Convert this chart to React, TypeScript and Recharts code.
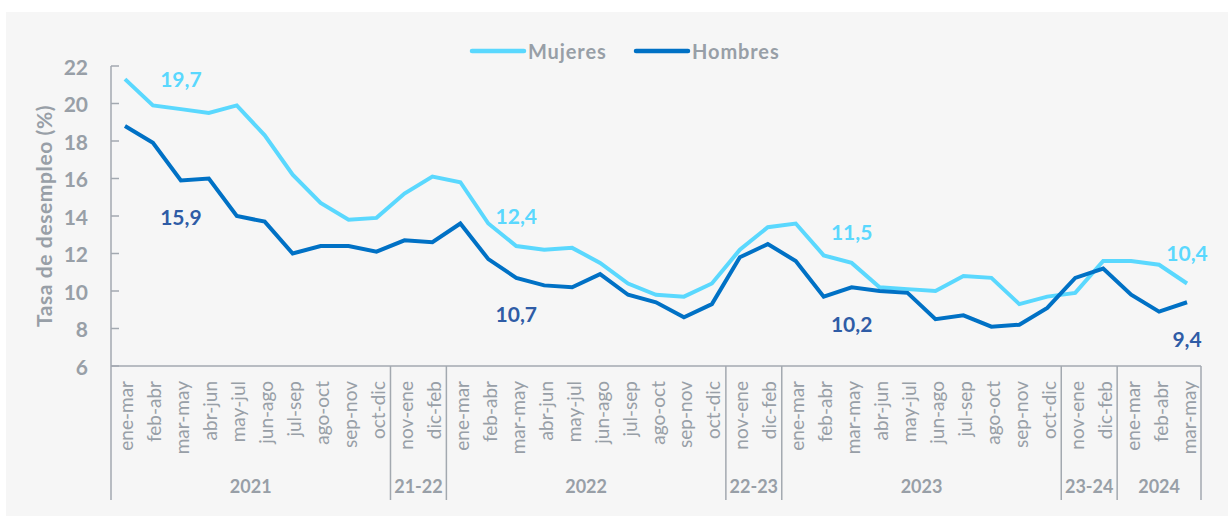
import React from 'react';
import { LineChart, Line, XAxis, YAxis, LabelList } from 'recharts';

const categories = [
  'ene-mar', 'feb-abr', 'mar-may', 'abr-jun', 'may-jul', 'jun-ago', 'jul-sep', 'ago-oct', 'sep-nov', 'oct-dic',
  'nov-ene', 'dic-feb',
  'ene-mar', 'feb-abr', 'mar-may', 'abr-jun', 'may-jul', 'jun-ago', 'jul-sep', 'ago-oct', 'sep-nov', 'oct-dic',
  'nov-ene', 'dic-feb',
  'ene-mar', 'feb-abr', 'mar-may', 'abr-jun', 'may-jul', 'jun-ago', 'jul-sep', 'ago-oct', 'sep-nov', 'oct-dic',
  'nov-ene', 'dic-feb',
  'ene-mar', 'feb-abr', 'mar-may',
];

const groupLabels = ['2021', '21-22', '2022', '22-23', '2023', '23-24', '2024'];
const groupSizes = [10, 2, 10, 2, 10, 2, 3];

const mujeres = [
  21.3, 19.9, 19.7, 19.5, 19.9, 18.3, 16.2, 14.7, 13.8, 13.9,
  15.2, 16.1,
  15.8, 13.6, 12.4, 12.2, 12.3, 11.5, 10.4, 9.8, 9.7, 10.4,
  12.2, 13.4,
  13.6, 11.9, 11.5, 10.2, 10.1, 10.0, 10.8, 10.7, 9.3, 9.7,
  9.9, 11.6,
  11.6, 11.4, 10.4,
];

const hombres = [
  18.8, 17.9, 15.9, 16.0, 14.0, 13.7, 12.0, 12.4, 12.4, 12.1,
  12.7, 12.6,
  13.6, 11.7, 10.7, 10.3, 10.2, 10.9, 9.8, 9.4, 8.6, 9.3,
  11.8, 12.5,
  11.6, 9.7, 10.2, 10.0, 9.9, 8.5, 8.7, 8.1, 8.2, 9.1,
  10.7, 11.2,
  9.8, 8.9, 9.4,
];

const yTicks = [6, 8, 10, 12, 14, 16, 18, 20, 22];
const labelIndices = [2, 14, 26, 38];

const data = categories.map((c, i) => ({ cat: c + '_' + i, label: c, mujeres: mujeres[i], hombres: hombres[i] }));

const groupStart: Record<number, number> = {};
{
  let s = 0;
  groupSizes.forEach((n, g) => {
    groupStart[s] = g;
    s += n;
  });
}

const GRAY = '#989fa7';
const AXIS = '#a3a9b0';
const LIGHT = '#5ad8fe';
const DARK = '#0071c5';
const DARK_LABEL = '#2f5ca6';
const FONT = 'Lato, "Noto Sans", sans-serif';
const PLOT_W = 1090;
const N = categories.length;
const HALF_BAND = PLOT_W / N / 2;

const XTick = (props: any) => {
  const { x, y, index } = props;
  const band = PLOT_W / N;
  const label = categories[index];
  const g = groupStart[index];
  const els: any[] = [];
  els.push(
    <text
      key="t"
      transform={`translate(${x + 1},${y + 15}) rotate(-90)`}
      textAnchor="end"
      dominantBaseline="central"
      fill={GRAY}
      fontSize={19}
      fontFamily={FONT}
      fontWeight={400}
    >
      {label}
    </text>
  );
  if (g !== undefined) {
    const x0 = x - band / 2;
    els.push(<line key="s" x1={x0} x2={x0} y1={y} y2={y + 134} stroke={AXIS} strokeWidth={1.5} />);
    els.push(
      <text
        key="g"
        x={x0 + (groupSizes[g] * band) / 2}
        y={y + 127}
        textAnchor="middle"
        fill={GRAY}
        fontSize={18}
        fontFamily={FONT}
        fontWeight={700}
      >
        {groupLabels[g]}
      </text>
    );
  }
  if (index === N - 1) {
    const x1 = x + band / 2;
    els.push(<line key="e" x1={x1} x2={x1} y1={y} y2={y + 134} stroke={AXIS} strokeWidth={1.5} />);
  }
  return <g>{els}</g>;
};

const YTick = (props: any) => {
  const { x, y, payload } = props;
  return (
    <g>
      <line x1={x} x2={x + 8} y1={y} y2={y} stroke={AXIS} strokeWidth={1.5} />
      <text
        x={x - 23}
        y={y}
        textAnchor="end"
        dominantBaseline="central"
        fill={GRAY}
        fontSize={21}
        fontFamily={FONT}
        fontWeight={700}
      >
        {payload.value}
      </text>
    </g>
  );
};

const makeLabel = (color: string, dy: number) => (p: any) => {
  const { x, y, value, index } = p;
  if (!labelIndices.includes(index)) return null;
  return (
    <text
      x={x}
      y={y + dy}
      textAnchor="middle"
      dominantBaseline="central"
      fill={color}
      fontSize={21}
      fontFamily={FONT}
      fontWeight={700}
    >
      {String(value).replace('.', ',')}
    </text>
  );
};

const YLabel = (p: any) => {
  const vb = p.viewBox || {};
  const cx = (vb.x ?? 11) + 32;
  const cy = (vb.y ?? 66) + (vb.height ?? 300) / 2;
  return (
    <text
      transform={`translate(${cx},${cy}) rotate(-90)`}
      textAnchor="middle"
      dominantBaseline="central"
      fill={GRAY}
      fontSize={21}
      fontFamily={FONT}
      fontWeight={700}
      letterSpacing={0.6}
    >
      Tasa de desempleo (%)
    </text>
  );
};

const legendItems = [
  { name: 'Mujeres', color: LIGHT, left: 468 },
  { name: 'Hombres', color: DARK, left: 632 },
];

export default function App() {
  return (
    <div style={{ position: 'absolute', left: 0, top: 0, width: 1228, height: 516, background: '#ffffff', overflow: 'hidden' }}>
      <div style={{ position: 'absolute', left: 6, top: 12, width: 1222, height: 504, background: '#f6f6f6' }} />
      <div style={{ position: 'absolute', left: 0, top: 0 }}>
        <LineChart width={1228} height={516} data={data} margin={{ top: 66, right: 27, bottom: 10, left: 11 }}>
          <XAxis
            dataKey="cat"
            interval={0}
            tick={<XTick />}
            tickLine={false}
            tickSize={0}
            tickMargin={0}
            height={140}
            padding={{ left: HALF_BAND, right: HALF_BAND }}
            axisLine={{ stroke: AXIS, strokeWidth: 1.5 }}
          />
          <YAxis
            domain={[6, 22]}
            ticks={yTicks}
            interval={0}
            width={100}
            tick={<YTick />}
            tickLine={false}
            tickSize={0}
            tickMargin={0}
            axisLine={{ stroke: AXIS, strokeWidth: 1.5 }}
            label={<YLabel />}
          />
          <Line dataKey="mujeres" stroke={LIGHT} strokeWidth={4} dot={false} isAnimationActive={false}>
            <LabelList dataKey="mujeres" content={makeLabel(LIGHT, -31)} />
          </Line>
          <Line dataKey="hombres" stroke={DARK} strokeWidth={4} dot={false} isAnimationActive={false}>
            <LabelList dataKey="hombres" content={makeLabel(DARK_LABEL, 36)} />
          </Line>
        </LineChart>
      </div>
      {legendItems.map((it) => (
        <div
          key={it.name}
          style={{
            position: 'absolute',
            left: it.left,
            top: 38,
            height: 26,
            display: 'flex',
            alignItems: 'center',
            fontFamily: FONT,
            fontWeight: 700,
            fontSize: 20,
            letterSpacing: 0.9,
            color: GRAY,
            whiteSpace: 'nowrap',
          }}
        >
          <svg width={60} height={26} style={{ display: 'block' }}>
            <line x1={4} x2={56} y1={13} y2={13} stroke={it.color} strokeWidth={4.5} strokeLinecap="round" />
          </svg>
          <span>{it.name}</span>
        </div>
      ))}
    </div>
  );
}
